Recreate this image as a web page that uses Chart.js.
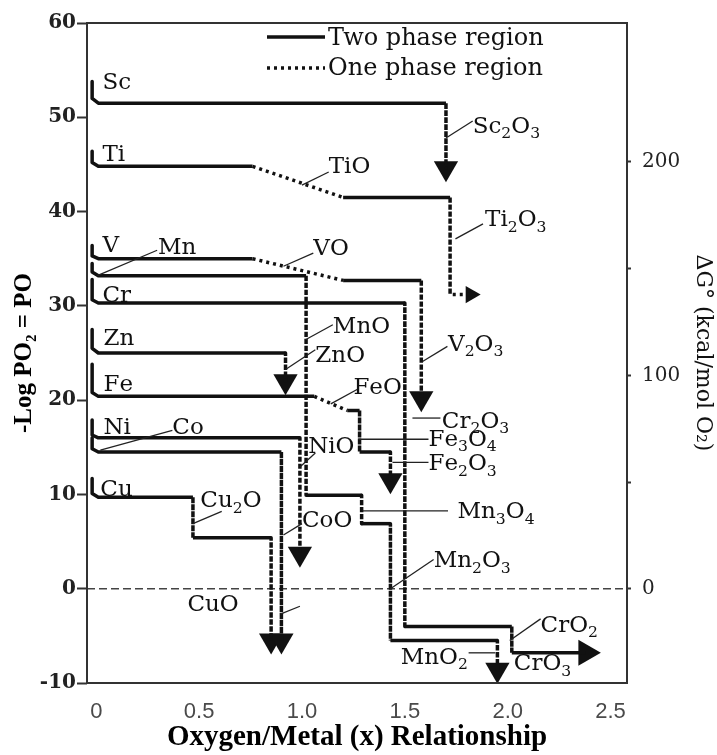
<!DOCTYPE html>
<html>
<head>
<meta charset="utf-8">
<script src="https://cdn.jsdelivr.net/npm/chart.js@4.4.0/dist/chart.umd.min.js"></script>
<style>
html,body{margin:0;padding:0;background:#fff;}
canvas{display:block;}
</style>
</head>
<body>
<canvas id="c" width="717" height="755"></canvas>
<script>
// ---------------- axis ticks ----------------
const xTickValues = [0, 0.5, 1, 1.5, 2, 2.5];
const xTickLabels = ['0', '0.5', '1.0', '1.5', '2.0', '2.5'];
const dgTickValues = [0, 50, 100, 150, 200];
const dgTickLabels = ['0', '', '100', '', '200'];

// ---------------- series (x = O/M ratio, y = -log PO2) ----------------
// phase of each segment: 'two' = two phase region (solid), 'one' = one phase region (dotted)
const scX = [-0.02, -0.02, 0.01, 1.70, 1.70];
const scY = [53.8, 52.0, 51.5, 51.5, 44.6];
const scPhase = ['two', 'two', 'two', 'one'];

const tiX = [-0.02, -0.02, 0.01, 0.76, 1.20, 1.72, 1.72, 1.82];
const tiY = [46.4, 45.2, 44.8, 44.8, 41.5, 41.5, 31.2, 31.2];
const tiPhase = ['two', 'two', 'two', 'one', 'two', 'one', 'one'];

const vX = [-0.02, -0.02, 0.01, 0.76, 1.20, 1.58, 1.58];
const vY = [36.4, 35.3, 35.0, 35.0, 32.7, 32.7, 20.2];
const vPhase = ['two', 'two', 'two', 'one', 'two', 'one'];

const mnX = [-0.02, -0.02, 0.01, 1.02, 1.02, 1.29, 1.29, 1.43, 1.43, 1.95, 1.95];
const mnY = [34.5, 33.6, 33.2, 33.2, 9.9, 9.9, 6.9, 6.9, -5.5, -5.5, -8.6];
const mnPhase = ['two', 'two', 'two', 'one', 'two', 'one', 'two', 'one', 'two', 'one'];

const crX = [-0.02, -0.02, 0.01, 1.50, 1.50, 2.02, 2.02, 2.38];
const crY = [32.8, 30.65, 30.3, 30.3, -4.0, -4.0, -6.8, -6.8];
const crPhase = ['two', 'two', 'two', 'one', 'two', 'one', 'two'];

const znX = [-0.02, -0.02, 0.01, 0.92, 0.92];
const znY = [27.5, 25.5, 25.0, 25.0, 22.0];
const znPhase = ['two', 'two', 'two', 'one'];

const feX = [-0.02, -0.02, 0.01, 1.06, 1.22, 1.28, 1.28, 1.43, 1.43];
const feY = [23.8, 20.8, 20.4, 20.4, 18.9, 18.9, 14.5, 14.5, 11.5];
const fePhase = ['two', 'two', 'two', 'one', 'two', 'one', 'two', 'one'];

const niX = [-0.02, -0.02, 0.01, 0.99, 0.99];
const niY = [17.9, 16.3, 16.0, 16.0, 3.7];
const niPhase = ['two', 'two', 'two', 'one'];

const coX = [-0.02, -0.02, 0.01, 0.90, 0.90];
const coY = [16.0, 14.85, 14.5, 14.5, -5.5];
const coPhase = ['two', 'two', 'two', 'one'];

const cuX = [-0.02, -0.02, 0.01, 0.47, 0.47, 0.85, 0.85];
const cuY = [11.7, 10.1, 9.7, 9.7, 5.4, 5.4, -5.5];
const cuPhase = ['two', 'two', 'two', 'one', 'two', 'one'];

// arrow heads at the end of paths
const arrowDownX = [1.70, 1.58, 0.92, 1.43, 0.99, 0.85, 0.90, 1.95];
const arrowDownY = [44.6, 20.2, 22.0, 11.5, 3.7, -5.5, -5.5, -8.6];
const arrowRightX = [1.82, 2.38];
const arrowRightY = [31.2, -6.8];

// zero reference line
const zeroLineValue = 0;

// ---------------- annotations (text anchored in data space) ----------------
const metalLabels = ['Sc', 'Ti', 'V', 'Mn', 'Cr', 'Zn', 'Fe', 'Ni', 'Co', 'Cu'];
const metalLabelX = [0.03, 0.03, 0.03, 0.30, 0.03, 0.035, 0.035, 0.035, 0.37, 0.02];
const metalLabelY = [53.8, 46.2, 36.6, 36.4, 31.3, 26.7, 21.8, 17.3, 17.3, 10.7];

const phaseLabels = ['TiO', 'Sc2O3', 'Ti2O3', 'VO', 'MnO', 'ZnO', 'V2O3', 'FeO', 'Cr2O3', 'Fe3O4',
  'NiO', 'Fe2O3', 'Cu2O', 'CoO', 'Mn3O4', 'Mn2O3', 'CuO', 'CrO2', 'MnO2', 'CrO3'];
const phaseLabelX = [1.13, 1.83, 1.89, 1.055, 1.15, 1.065, 1.71, 1.25, 1.68, 1.615,
  1.03, 1.615, 0.506, 1.00, 1.756, 1.64, 0.443, 2.16, 1.48, 2.03];
const phaseLabelY = [44.9, 49.2, 39.3, 36.2, 28.0, 24.9, 26.1, 21.5, 17.9, 16.0,
  15.2, 13.4, 9.5, 7.4, 8.3, 3.1, -1.5, -3.7, -7.1, -7.8];

const leaderX0 = [0.005, 0.02, 1.00, 1.70, 1.746, 0.91, 1.586, 1.017, 0.92, 1.14, 1.537, 1.274, 0.99, 1.44, 0.47, 0.91, 1.294, 1.43, 0.895, 2.01, 1.81];
const leaderY0 = [33.2, 14.7, 42.8, 47.8, 37.1, 34.2, 24.1, 26.4, 23.25, 19.6, 18.1, 15.85, 12.9, 13.4, 6.9, 5.7, 8.25, 0, -2.7, -5.5, -6.8];
const leaderX1 = [0.296, 0.37, 1.13, 1.83, 1.88, 1.055, 1.707, 1.15, 1.065, 1.27, 1.673, 1.615, 1.065, 1.615, 0.61, 1.00, 1.71, 1.64, 0.99, 2.16, 1.94];
const leaderY1 = [35.9, 16.8, 44.2, 49.6, 38.7, 35.6, 25.7, 28.0, 25.35, 21.15, 18.1, 15.85, 14.4, 13.4, 8.2, 6.9, 8.25, 3.1, -1.86, -3.2, -6.8];

const legendLabels = ['Two phase region', 'One phase region'];

// ---------------- build datasets ----------------
const INK = '#111';
const DOT = [3, 4];
function pts(xs, ys) { return xs.map((v, i) => ({ x: v, y: ys[i] })); }
function pathDataset(name, xs, ys, phases) {
  return {
    label: name,
    data: pts(xs, ys),
    showLine: true,
    borderColor: INK,
    backgroundColor: INK,
    borderWidth: 3.5,
    pointRadius: 0,
    tension: 0,
    borderJoinStyle: 'round',
    borderCapStyle: 'butt',
    clip: false,
    segment: {
      borderDash: ctx => phases[ctx.p0DataIndex] === 'one' ? DOT : []
    }
  };
}
const datasets = [
  pathDataset('Sc', scX, scY, scPhase),
  pathDataset('Ti', tiX, tiY, tiPhase),
  pathDataset('V', vX, vY, vPhase),
  pathDataset('Mn', mnX, mnY, mnPhase),
  pathDataset('Cr', crX, crY, crPhase),
  pathDataset('Zn', znX, znY, znPhase),
  pathDataset('Fe', feX, feY, fePhase),
  pathDataset('Ni', niX, niY, niPhase),
  pathDataset('Co', coX, coY, coPhase),
  pathDataset('Cu', cuX, cuY, cuPhase),
  {
    label: 'arrows down', data: pts(arrowDownX, arrowDownY), showLine: false,
    pointStyle: 'triangle', rotation: 180, pointRadius: 14, pointBorderWidth: 0,
    backgroundColor: INK, borderColor: INK, clip: false
  },
  {
    label: 'arrows right', data: pts(arrowRightX, arrowRightY), showLine: false,
    pointStyle: 'triangle', rotation: 90, pointRadius: [10, 15], pointBorderWidth: 0,
    backgroundColor: INK, borderColor: INK, clip: false
  }
];

// ---------------- drawing helpers ----------------
const LABEL_FONT = "'DejaVu Serif'";
const LABEL_SIZE = 23;
const LEGEND_SIZE = 24;
function drawChem(ctx, text, x, y, size) {
  let cx = x;
  for (const ch of text) {
    const sub = /[0-9]/.test(ch);
    ctx.font = (sub ? size * 0.68 : size) + 'px ' + LABEL_FONT;
    ctx.fillText(ch, cx, sub ? y + size * 0.24 : y);
    cx += ctx.measureText(ch).width;
  }
}

const annot = {
  id: 'annot',
  beforeDatasetsDraw(chart) {
    const { ctx, chartArea: a } = chart;
    const y = chart.scales.y;
    ctx.save();
    ctx.strokeStyle = '#444';
    ctx.lineWidth = 1.5;
    ctx.setLineDash([8, 4]);
    const y0 = y.getPixelForValue(zeroLineValue);
    ctx.beginPath();
    ctx.moveTo(a.left, y0);
    ctx.lineTo(a.right, y0);
    ctx.stroke();
    ctx.restore();
  },
  afterDatasetsDraw(chart) {
    const { ctx, chartArea: a } = chart;
    const x = chart.scales.x, y = chart.scales.y;
    ctx.save();
    // frame
    ctx.strokeStyle = '#333';
    ctx.lineWidth = 2;
    ctx.setLineDash([]);
    ctx.strokeRect(a.left, a.top, a.right - a.left, a.bottom - a.top);

    // leader lines
    ctx.strokeStyle = '#222';
    ctx.lineWidth = 1.3;
    for (let i = 0; i < leaderX0.length; i++) {
      ctx.beginPath();
      ctx.moveTo(x.getPixelForValue(leaderX0[i]), y.getPixelForValue(leaderY0[i]));
      ctx.lineTo(x.getPixelForValue(leaderX1[i]), y.getPixelForValue(leaderY1[i]));
      ctx.stroke();
    }

    // text labels
    ctx.fillStyle = INK;
    ctx.textBaseline = 'alphabetic';
    ctx.textAlign = 'left';
    for (let i = 0; i < metalLabels.length; i++) {
      drawChem(ctx, metalLabels[i], x.getPixelForValue(metalLabelX[i]), y.getPixelForValue(metalLabelY[i]) + 8, LABEL_SIZE);
    }
    for (let i = 0; i < phaseLabels.length; i++) {
      drawChem(ctx, phaseLabels[i], x.getPixelForValue(phaseLabelX[i]), y.getPixelForValue(phaseLabelY[i]) + 8, LABEL_SIZE);
    }

    // legend
    const lx0 = a.left + 180, lx1 = a.left + 238;
    ctx.strokeStyle = INK;
    ctx.lineWidth = 3.5;
    ctx.beginPath(); ctx.moveTo(lx0, a.top + 14); ctx.lineTo(lx1, a.top + 14); ctx.stroke();
    ctx.setLineDash(DOT);
    ctx.beginPath(); ctx.moveTo(lx0, a.top + 45); ctx.lineTo(lx1, a.top + 45); ctx.stroke();
    ctx.setLineDash([]);
    ctx.font = LEGEND_SIZE + 'px ' + LABEL_FONT;
    ctx.fillText(legendLabels[0], lx1 + 3, a.top + 22);
    ctx.fillText(legendLabels[1], lx1 + 3, a.top + 52);
    ctx.restore();
  }
};

new Chart(document.getElementById('c'), {
  type: 'scatter',
  data: { datasets },
  options: {
    responsive: false,
    animation: false,
    devicePixelRatio: 1,
    layout: { padding: { top: 16, left: 0, right: 0, bottom: 0 } },
    plugins: { legend: { display: false }, tooltip: { enabled: false } },
    scales: {
      x: {
        type: 'linear',
        min: -0.045,
        max: 2.58,
        afterBuildTicks: s => { s.ticks = xTickValues.map(v => ({ value: v })); },
        afterFit: s => { s.height = 72; },
        grid: { display: false, drawTicks: false },
        border: { display: false },
        ticks: {
          padding: 16,
          color: '#4a4a4a',
          font: { family: "'Liberation Sans', Arial, sans-serif", size: 22 },
          maxRotation: 0,
          autoSkip: false,
          callback: v => { const i = xTickValues.indexOf(v); return i >= 0 ? xTickLabels[i] : ''; }
        },
        title: {
          display: true,
          text: 'Oxygen/Metal (x) Relationship',
          color: '#000',
          font: { family: "'Liberation Serif', serif", size: 29, weight: 'bold' },
          padding: { top: 0, bottom: 0 }
        }
      },
      y: {
        position: 'left',
        min: -10,
        max: 60,
        afterFit: s => { s.width = 87; },
        grid: { drawOnChartArea: false, drawTicks: true, tickLength: 10, tickColor: '#333', tickWidth: 2 },
        border: { display: false },
        ticks: {
          stepSize: 10,
          padding: 1,
          color: '#222',
          font: { family: "'DejaVu Serif', serif", size: 20, weight: 'bold' }
        },
        title: {
          display: true,
          text: '-Log PO\u2082 = PO',
          color: '#000',
          font: { family: "'Liberation Serif', serif", size: 25, weight: 'bold' },
          padding: { top: 10, bottom: 0 }
        }
      },
      y2: {
        position: 'right',
        min: -44.1,
        max: 265,
        afterBuildTicks: s => { s.ticks = dgTickValues.map(v => ({ value: v })); },
        afterFit: s => { s.width = 90; },
        grid: { drawOnChartArea: false, drawTicks: true, tickLength: 4, tickColor: '#333', tickWidth: 2 },
        border: { display: false },
        ticks: {
          padding: 11,
          color: '#222',
          font: { family: "'DejaVu Serif', serif", size: 20 },
          callback: v => { const i = dgTickValues.indexOf(v); return i >= 0 ? dgTickLabels[i] : ''; }
        },
        title: {
          display: true,
          text: '\u0394G\u00B0 (kcal/mol O\u2082)',
          color: '#111',
          font: { family: "'DejaVu Serif', serif", size: 22 },
          padding: { top: 1, bottom: 0 }
        }
      }
    }
  },
  plugins: [annot]
});
</script>
</body>
</html>
